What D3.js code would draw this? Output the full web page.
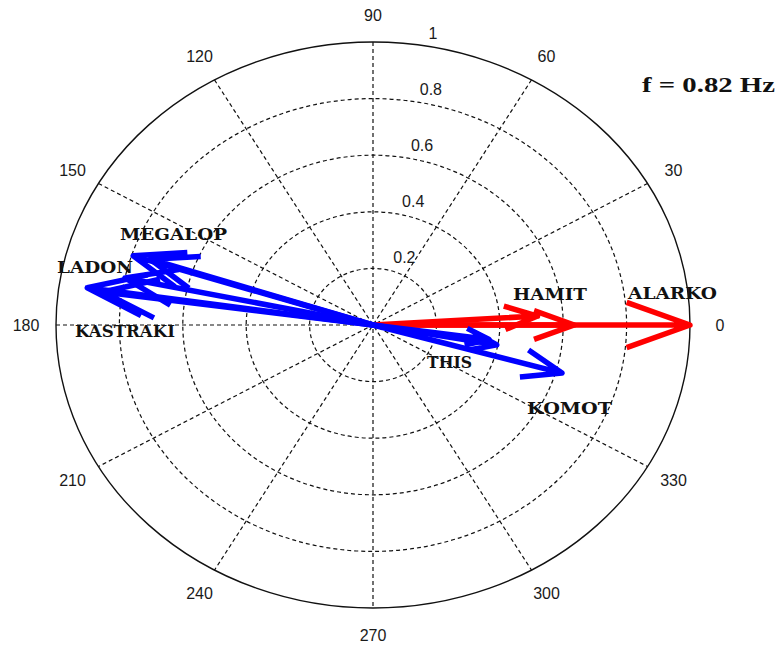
<!DOCTYPE html>
<html>
<head>
<meta charset="utf-8">
<script src="https://cdn.jsdelivr.net/npm/d3@7"></script>
<style>
  html, body { margin: 0; padding: 0; background: #fff; }
  svg { display: block; }
</style>
</head>
<body>
<svg id="chart" width="780" height="652"></svg>
<script>
// Angle grid (degrees) and radial grid values
const angleTicks = [0, 30, 60, 90, 120, 150, 180, 210, 240, 270, 300, 330];
const radialTicks = [0.2, 0.4, 0.6, 0.8, 1];
const radialTickLabels = ["0.2", "0.4", "0.6", "0.8", "1"];

// Red vectors: normalised amplitude and phase (degrees)
const redMagnitude = [1.00, 0.635, 0.52];
const redPhase     = [0.0, 0.0, 3.5];

// Blue vectors: normalised amplitude and phase (degrees)
const blueMagnitude = [0.397, 0.37, 0.62, 0.795, 0.74, 0.911, 0.86, 0.80];
const bluePhase     = [-10.2, -8.0, -15.9, 162.1, 161.7, 171.7, 172.2, 168.0];

// Station names
const stationNames = ["ALARKO", "HAMIT", "THIS", "KOMOT", "MEGALOP", "LADON", "KASTRAKI"];
const frequencyLabel = "f = 0.82 Hz";

// ---- layout ----
const cx = 373, cy = 325, rx = 317, ry = 283;
const labelRx = 347, labelRy = 310;

// placement of the station labels: [x, baseline, width]
const stationLayout = {
  ALARKO:   [628, 299, 89],
  HAMIT:    [513, 300, 74],
  THIS:     [427, 368, 45],
  KOMOT:    [527, 414, 85],
  MEGALOP:  [120, 240, 107],
  LADON:    [57, 273, 76],
  KASTRAKI: [75, 337, 100]
};

const svg = d3.select("#chart");

const xS = d3.scaleLinear().domain([-1, 1]).range([cx - rx, cx + rx]);
const yS = d3.scaleLinear().domain([-1, 1]).range([cy + ry, cy - ry]);
const rad = d => d * Math.PI / 180;
const toXY = (r, deg) => [xS(r * Math.cos(rad(deg))), yS(r * Math.sin(rad(deg)))];

const grid = svg.append("g");

// spokes through the centre
angleTicks.filter(a => a < 180).forEach(a => {
  const p1 = toXY(1, a), p2 = toXY(1, a + 180);
  grid.append("line")
    .attr("x1", p1[0]).attr("y1", p1[1])
    .attr("x2", p2[0]).attr("y2", p2[1])
    .attr("stroke", "#111").attr("stroke-width", 1.2)
    .attr("stroke-dasharray", "4,3");
});

// range rings
radialTicks.forEach(r => {
  grid.append("ellipse")
    .attr("cx", xS(0)).attr("cy", yS(0))
    .attr("rx", xS(r) - xS(0)).attr("ry", yS(0) - yS(r))
    .attr("fill", "none")
    .attr("stroke", "#111")
    .attr("stroke-width", r === 1 ? 1.4 : 1.2)
    .attr("stroke-dasharray", r === 1 ? null : "4,3");
});

// angle labels
const labelX = d3.scaleLinear().domain([-1, 1]).range([cx - labelRx, cx + labelRx]);
const labelY = d3.scaleLinear().domain([-1, 1]).range([cy + labelRy, cy - labelRy]);
svg.append("g").selectAll("text").data(angleTicks).join("text")
  .attr("x", d => labelX(Math.cos(rad(d))))
  .attr("y", d => labelY(Math.sin(rad(d))))
  .attr("dy", "0.36em")
  .attr("text-anchor", "middle")
  .attr("font-family", "Liberation Sans, Arial, sans-serif")
  .attr("font-size", 16)
  .attr("fill", "#1a1a1a")
  .text(d => d);

// radial labels along 82 degrees
svg.append("g").selectAll("text").data(radialTicks).join("text")
  .attr("x", (d) => toXY(d + 0.01, 82)[0] + 11)
  .attr("y", (d) => toXY(d + 0.01, 82)[1] - 3)
  .attr("font-family", "Liberation Sans, Arial, sans-serif")
  .attr("font-size", 16)
  .attr("fill", "#1a1a1a")
  .text((d, i) => radialTickLabels[i]);

// compass arrows: shaft plus two head strokes
function arrowPath(r, deg) {
  const t = [r * Math.cos(rad(deg)), r * Math.sin(rad(deg))];
  const base = [0.8 * t[0], 0.8 * t[1]];
  const px = [-0.08 * t[1], 0.08 * t[0]];
  const h1 = [base[0] + px[0], base[1] + px[1]];
  const h2 = [base[0] - px[0], base[1] - px[1]];
  const p = d3.path();
  p.moveTo(xS(0), yS(0));
  p.lineTo(xS(t[0]), yS(t[1]));
  p.lineTo(xS(h1[0]), yS(h1[1]));
  p.moveTo(xS(t[0]), yS(t[1]));
  p.lineTo(xS(h2[0]), yS(h2[1]));
  return p.toString();
}

function drawArrows(mags, phases, colour) {
  svg.append("g").selectAll("path").data(mags).join("path")
    .attr("d", (m, i) => arrowPath(m, phases[i]))
    .attr("fill", "none")
    .attr("stroke", colour)
    .attr("stroke-width", 5.5)
    .attr("stroke-linejoin", "round")
    .attr("stroke-linecap", "butt");
}
drawArrows(redMagnitude, redPhase, "#ff0000");
drawArrows(blueMagnitude, bluePhase, "#0000ff");

// station labels
svg.append("g").selectAll("text").data(stationNames).join("text")
  .attr("x", d => stationLayout[d][0])
  .attr("y", d => stationLayout[d][1])
  .attr("textLength", d => stationLayout[d][2])
  .attr("lengthAdjust", "spacingAndGlyphs")
  .attr("font-family", "DejaVu Serif, serif")
  .attr("font-weight", "bold")
  .attr("font-size", 17)
  .attr("fill", "#111")
  .text(d => d);

// frequency annotation
svg.append("text")
  .attr("x", 642).attr("y", 92)
  .attr("textLength", 133)
  .attr("lengthAdjust", "spacingAndGlyphs")
  .attr("font-family", "Liberation Serif, Times New Roman, serif")
  .attr("font-weight", "bold")
  .attr("font-size", 21)
  .attr("fill", "#111")
  .text(frequencyLabel);
</script>
</body>
</html>
